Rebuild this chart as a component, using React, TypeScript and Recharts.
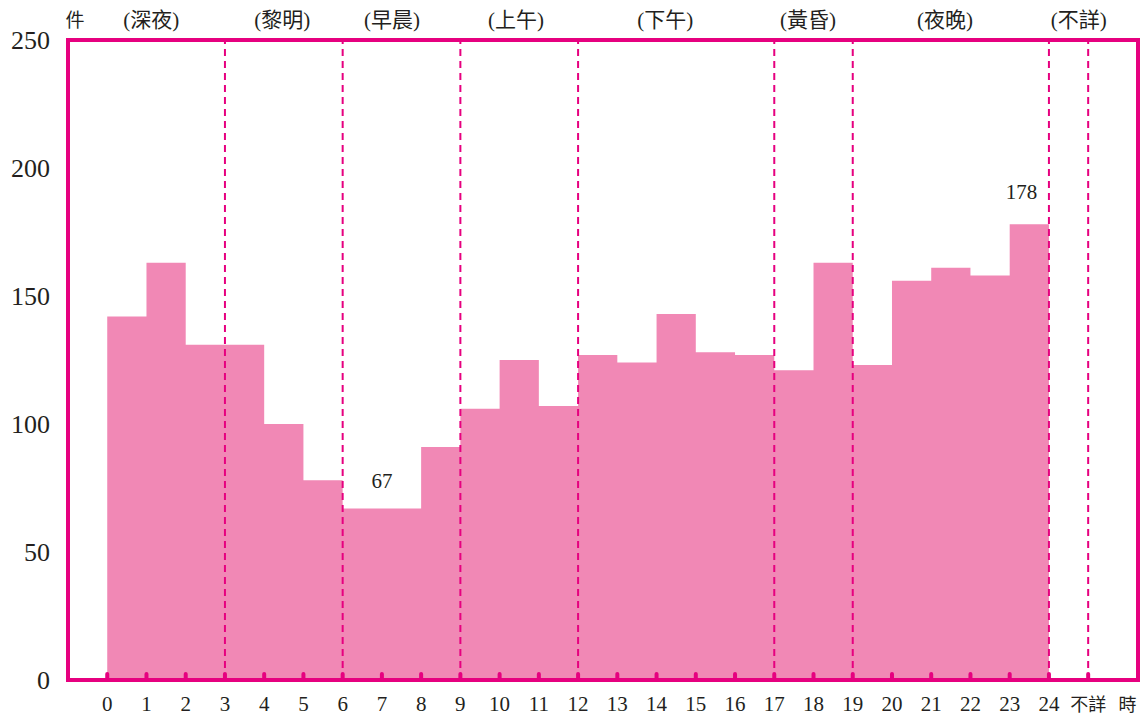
import { ComposedChart, Area, XAxis, YAxis, ReferenceLine, ReferenceArea, ReferenceDot } from 'recharts';

// counts per hour of day (0時 .. 23時)
const hours = [0, 1, 2, 3, 4, 5, 6, 7, 8, 9, 10, 11, 12, 13, 14, 15, 16, 17, 18, 19, 20, 21, 22, 23];
const counts = [142, 163, 131, 131, 100, 78, 67, 67, 91, 106, 125, 107, 127, 124, 143, 128, 127, 121, 163, 123, 156, 161, 158, 178];

const hourTicks = [0, 1, 2, 3, 4, 5, 6, 7, 8, 9, 10, 11, 12, 13, 14, 15, 16, 17, 18, 19, 20, 21, 22, 23, 24, 25, 26];
const extraTickLabels: Record<number, string> = { 25: '不詳', 26: '時' };

const periodBreaks = [3, 6, 9, 12, 17, 19, 24, 25];
const periodNames = ['件', '(深夜)', '(黎明)', '(早晨)', '(上午)', '(下午)', '(黃昏)', '(夜晚)', '(不詳)'];
const periodCenters = [-0.82, 1.12, 4.46, 7.26, 10.42, 14.22, 17.86, 21.35, 24.76];

const yTicks = [0, 50, 100, 150, 200, 250];
const callouts = [
  { hour: 7, value: 67, lift: 20 },
  { hour: 23.3, value: 178, lift: 25 },
];

const X_MIN = -1;
const X_MAX = 26.27;
const MAGENTA = '#E6007F';
const PINK = '#F188B5';
const INK = '#231F20';
const FONT = "'Liberation Serif', 'Noto Sans CJK TC', serif";

// step area needs a closing point at 24 that repeats the last hour
const chartData = [
  ...hours.map((h, i) => ({ hour: h, count: counts[i] })),
  { hour: 24, count: counts[counts.length - 1] },
];

function HourTick(props: any) {
  const { x, y, payload } = props;
  const v = payload.value as number;
  const label = extraTickLabels[v] ?? String(v);
  const cjk = v in extraTickLabels;
  return (
    <g>
      {v <= 25 && (
        <line x1={x} x2={x} y1={y} y2={y - 6} stroke={MAGENTA} strokeWidth={4} strokeLinecap="round" />
      )}
      <text x={x} y={y + 31} textAnchor="middle" fontSize={cjk ? 18 : 21} fill={INK} fontFamily={FONT}>
        {label}
      </text>
    </g>
  );
}

function PeriodTick(props: any) {
  const { x, y, payload } = props;
  const idx = periodCenters.indexOf(payload.value);
  return (
    <text x={x} y={y - 13} textAnchor="middle" fontSize={idx === 0 ? 19 : 21} fill={INK} fontFamily={FONT}>
      {periodNames[idx]}
    </text>
  );
}

export default function App() {
  return (
    <div style={{ position: 'absolute', left: 0, top: 0, background: '#fff' }}>
      <ComposedChart width={1144} height={718} data={chartData} margin={{ top: 0, right: 6, bottom: 0, left: 0 }}>
        <XAxis
          dataKey="hour"
          type="number"
          domain={[X_MIN, X_MAX]}
          allowDataOverflow
          ticks={hourTicks}
          interval={0}
          height={38}
          axisLine={false}
          tickLine={false}
          tickSize={0}
          tickMargin={0}
          tick={<HourTick />}
        />
        <XAxis
          xAxisId="top"
          orientation="top"
          dataKey="hour"
          type="number"
          domain={[X_MIN, X_MAX]}
          allowDataOverflow
          ticks={periodCenters}
          interval={0}
          height={40}
          axisLine={false}
          tickLine={false}
          tickSize={0}
          tickMargin={0}
          tick={<PeriodTick />}
        />
        <YAxis
          domain={[0, 250]}
          ticks={yTicks}
          width={68}
          axisLine={false}
          tickLine={false}
          tickSize={0}
          tickMargin={18}
          tick={{ fontSize: 26, fill: INK, fontFamily: FONT }}
        />
        <Area
          type="stepAfter"
          dataKey="count"
          stroke="none"
          fill={PINK}
          fillOpacity={1}
          baseValue={0}
          dot={false}
          activeDot={false}
          isAnimationActive={false}
        />
        {periodBreaks.map((b) => (
          <ReferenceLine key={b} x={b} stroke={MAGENTA} strokeWidth={2} strokeDasharray="7 5" />
        ))}
        {callouts.map((c) => (
          <ReferenceDot
            key={c.hour}
            x={c.hour}
            y={c.value}
            r={0}
            ifOverflow="visible"
            shape={(p: any) => (
              <text x={p.cx} y={p.cy - c.lift} textAnchor="middle" fontSize={21} fill={INK} fontFamily={FONT}>
                {c.value}
              </text>
            )}
          />
        ))}
        <ReferenceArea
          x1={X_MIN}
          x2={X_MAX}
          y1={0}
          y2={250}
          fill="none"
          stroke={MAGENTA}
          strokeWidth={4}
          ifOverflow="visible"
        />
      </ComposedChart>
    </div>
  );
}
